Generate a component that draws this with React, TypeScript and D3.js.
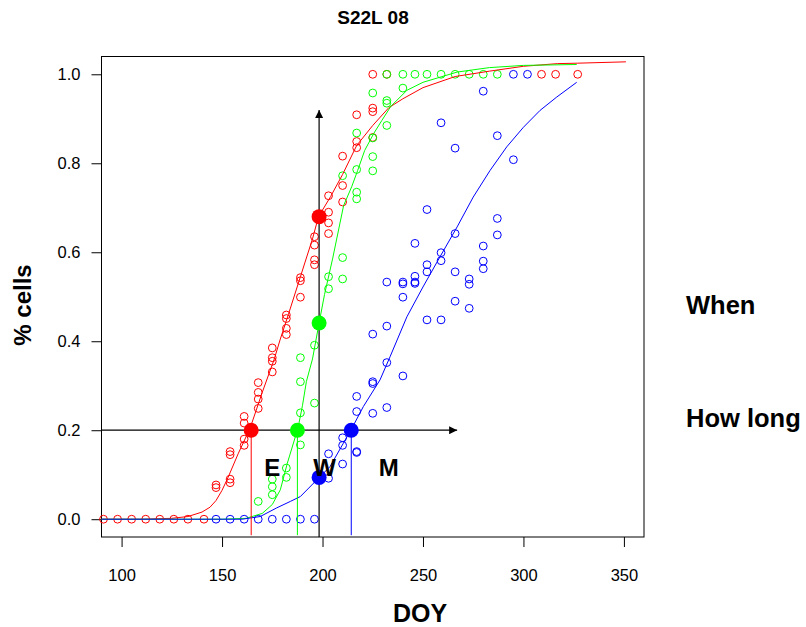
import React, { useEffect, useRef } from "react";
import * as d3 from "d3";

// axis ticks
const xTicks = [100, 150, 200, 250, 300, 350];
const yTicks = [0, 0.2, 0.4, 0.6, 0.8, 1.0];

// observed proportions, [DOY, % cells]
const redObs: [number, number][] = [
  [91, 0], [98, 0], [105, 0], [112, 0], [119, 0], [126, 0], [133, 0], [141, 0],
  [147, 0.077], [147, 0.071],
  [154, 0.152], [154, 0.145], [154, 0.09], [154, 0.082],
  [161, 0.231], [161, 0.216], [161, 0.18], [161, 0.166],
  [168, 0.307], [168, 0.285], [168, 0.27], [168, 0.249],
  [175, 0.385], [175, 0.363], [175, 0.355], [175, 0.331],
  [182, 0.459], [182, 0.451], [182, 0.429], [182, 0.415],
  [189, 0.543], [189, 0.536], [189, 0.499],
  [196, 0.635], [196, 0.616], [196, 0.583], [196, 0.572],
  [203, 0.727], [203, 0.69], [203, 0.666], [203, 0.642],
  [210, 0.816], [210, 0.75], [210, 0.713],
  [217, 0.909], [217, 0.849], [217, 0.835],
  [225, 1.0], [225, 0.924], [225, 0.916], [225, 0.858],
  [232, 1.0], [309, 1.0], [316, 1.0], [327, 1.0],
];

const greenObs: [number, number][] = [
  [168, 0.04],
  [175, 0.09], [175, 0.073], [175, 0.055],
  [182, 0.115], [182, 0.094],
  [189, 0.363], [189, 0.309], [189, 0.239], [189, 0.167],
  [196, 0.391], [196, 0.261],
  [203, 0.545], [203, 0.518],
  [210, 0.772], [210, 0.588], [210, 0.54],
  [217, 0.868], [217, 0.786], [217, 0.735], [217, 0.72],
  [225, 0.958], [225, 0.857], [225, 0.815], [225, 0.783],
  [232, 1.0], [232, 0.941], [232, 0.935], [232, 0.885],
  [240, 1.0], [240, 0.969],
  [246, 1.0], [252, 1.0], [259, 1.0], [266, 1.0], [273, 1.0], [280, 1.0], [287, 1.0],
];

const blueObs: [number, number][] = [
  [147, 0], [154, 0], [161, 0], [168, 0], [175, 0], [182, 0], [189, 0], [196, 0],
  [203, 0.147], [203, 0.092],
  [210, 0.183], [210, 0.166], [210, 0.124],
  [217, 0.276], [217, 0.242], [217, 0.152], [217, 0.15],
  [225, 0.416], [225, 0.309], [225, 0.305], [225, 0.238],
  [232, 0.533], [232, 0.434], [232, 0.352], [232, 0.251],
  [240, 0.533], [240, 0.529], [240, 0.499], [240, 0.322],
  [246, 0.62], [246, 0.546], [246, 0.533], [246, 0.53],
  [252, 0.696], [252, 0.572], [252, 0.556], [252, 0.448],
  [259, 0.891], [259, 0.599], [259, 0.581], [259, 0.448],
  [266, 0.834], [266, 0.642], [266, 0.556], [266, 0.49],
  [273, 0.54], [273, 0.528], [273, 0.474],
  [280, 0.962], [280, 0.614], [280, 0.58], [280, 0.563],
  [287, 0.862], [287, 0.676], [287, 0.639],
  [295, 1.0], [295, 0.808],
  [302, 1.0],
];

// fitted curves
const redFit: [number, number][] = [
  [90, 0], [110, 0], [125, 0.002], [133, 0.006], [140, 0.016], [144, 0.027],
  [147, 0.042], [150, 0.065], [153, 0.094], [158, 0.147], [164, 0.205],
  [170, 0.285], [176, 0.36], [179, 0.405], [183, 0.46], [189, 0.545],
  [195, 0.63], [198, 0.68], [204, 0.725], [210, 0.775], [217, 0.84],
  [225, 0.885], [233, 0.925], [240, 0.945], [250, 0.97], [266, 0.995],
  [283, 1.007], [300, 1.018], [317, 1.024], [327, 1.025], [351, 1.028],
];

const greenFit: [number, number][] = [
  [90, 0], [150, 0], [162, 0.002], [170, 0.013], [175, 0.033], [179, 0.066],
  [182.5, 0.126], [187.8, 0.205], [190, 0.255], [192, 0.31], [195, 0.36],
  [198.3, 0.441], [201, 0.505], [205, 0.585], [210.5, 0.705], [214.5, 0.747],
  [217.5, 0.784], [221, 0.829], [225.5, 0.867], [229.5, 0.896], [234, 0.928],
  [242, 0.964], [250, 0.982], [267, 1.005], [283, 1.015], [300, 1.02], [326.5, 1.022],
];

const blueFit: [number, number][] = [
  [90, 0], [160, 0], [169, 0.006], [177, 0.025], [184, 0.04], [189, 0.051],
  [198.4, 0.094], [203.7, 0.118], [210.4, 0.171], [214.7, 0.205], [220.3, 0.253],
  [228.6, 0.313], [233.6, 0.365], [242, 0.455], [250, 0.522], [258.5, 0.59],
  [267, 0.657], [275, 0.724], [283.4, 0.784], [291.7, 0.837], [300, 0.881],
  [308.3, 0.919], [316.6, 0.949], [326.5, 0.982],
];

// E / M (at 20%) and W (on the "when" date)
const levelP = 0.2;
const whenDay = 198.3;
const startDays = { red: 164.5, green: 187.5, blue: 214.3 };
const whenVals = { red: 0.68, green: 0.441, blue: 0.094 };
const arrowEnd = { day: 267, p: 0.92 };

const COLORS = { red: "#ff0000", green: "#00ff00", blue: "#0000ff" };
const FONT = "'Liberation Sans', Arial, Helvetica, sans-serif";

export default function App() {
  const ref = useRef<SVGSVGElement>(null);

  useEffect(() => {
    const svg = d3.select(ref.current);
    svg.selectAll("*").remove();

    const x = d3.scaleLinear().domain([90, 360]).range([101.5, 644]);
    const y = d3.scaleLinear().domain([-0.04, 1.04]).range([537, 56.5]);

    svg.append("defs").append("marker")
      .attr("id", "arr")
      .attr("markerUnits", "userSpaceOnUse")
      .attr("markerWidth", 9)
      .attr("markerHeight", 8)
      .attr("refX", 8)
      .attr("refY", 4)
      .attr("orient", "auto")
      .append("path")
      .attr("d", "M0,0L8,4L0,8Z")
      .attr("fill", "#000");

    // title
    svg.append("text")
      .attr("x", 373).attr("y", 24)
      .attr("text-anchor", "middle")
      .attr("font-family", FONT).attr("font-weight", "bold").attr("font-size", 19)
      .text("S22L 08");

    // axes
    const xAxis = svg.append("g")
      .attr("transform", "translate(0,537)")
      .call(d3.axisBottom(x).tickValues(xTicks).tickSize(10).tickPadding(22).tickFormat(d3.format("d")));
    const yAxis = svg.append("g")
      .attr("transform", "translate(101.5,0)")
      .call(d3.axisLeft(y).tickValues(yTicks).tickSize(10).tickPadding(11).tickFormat(d3.format(".1f")));
    [xAxis, yAxis].forEach((g) => {
      g.select(".domain").remove();
      g.selectAll("text").attr("font-family", FONT).attr("font-size", 16.5).attr("fill", "#000");
      g.selectAll("line").attr("stroke", "#000");
    });

    // box
    svg.append("rect")
      .attr("x", 101.5).attr("y", 56.5)
      .attr("width", 542.5).attr("height", 480.5)
      .attr("fill", "none").attr("stroke", "#000");

    // axis titles
    svg.append("text")
      .attr("x", 420).attr("y", 622)
      .attr("text-anchor", "middle")
      .attr("font-family", FONT).attr("font-weight", "bold").attr("font-size", 25)
      .text("DOY");
    svg.append("text")
      .attr("transform", "translate(31,305) rotate(-90)")
      .attr("text-anchor", "middle")
      .attr("font-family", FONT).attr("font-weight", "bold").attr("font-size", 24)
      .text("% cells");

    const line = d3.line<[number, number]>()
      .x((d) => x(d[0]))
      .y((d) => y(d[1]));

    const series: [string, [number, number][], [number, number][]][] = [
      [COLORS.red, redObs, redFit],
      [COLORS.green, greenObs, greenFit],
      [COLORS.blue, blueObs, blueFit],
    ];

    const plot = svg.append("g");

    series.forEach(([col, obs]) => {
      plot.selectAll(null)
        .data(obs)
        .enter()
        .append("circle")
        .attr("cx", (d) => x(d[0]))
        .attr("cy", (d) => y(d[1]))
        .attr("r", 3.9)
        .attr("fill", "none")
        .attr("stroke", col)
        .attr("stroke-width", 1);
    });

    series.forEach(([col, , fit]) => {
      plot.append("path")
        .datum(fit)
        .attr("d", line)
        .attr("fill", "none")
        .attr("stroke", col)
        .attr("stroke-width", 1);
    });

    // arrows
    plot.append("line")
      .attr("x1", x(90)).attr("x2", x(arrowEnd.day))
      .attr("y1", y(levelP)).attr("y2", y(levelP))
      .attr("stroke", "#000").attr("stroke-width", 1.2)
      .attr("marker-end", "url(#arr)");
    plot.append("line")
      .attr("x1", x(whenDay)).attr("x2", x(whenDay))
      .attr("y1", y(-0.04)).attr("y2", y(arrowEnd.p))
      .attr("stroke", "#000").attr("stroke-width", 1.2)
      .attr("marker-end", "url(#arr)");

    // drop lines and filled points
    (["red", "green", "blue"] as const).forEach((k) => {
      plot.append("line")
        .attr("x1", x(startDays[k])).attr("x2", x(startDays[k]))
        .attr("y1", y(levelP)).attr("y2", y(-0.036))
        .attr("stroke", COLORS[k]).attr("stroke-width", 1);
    });
    (["red", "green", "blue"] as const).forEach((k) => {
      plot.append("circle")
        .attr("cx", x(startDays[k])).attr("cy", y(levelP))
        .attr("r", 7.5).attr("fill", COLORS[k]);
      plot.append("circle")
        .attr("cx", x(whenDay)).attr("cy", y(whenVals[k]))
        .attr("r", 7.5).attr("fill", COLORS[k]);
    });

    // labels
    const labels: [string, number][] = [["E", 175], ["W", 201], ["M", 233]];
    labels.forEach(([t, d]) => {
      plot.append("text")
        .attr("x", x(d)).attr("y", y(0.098))
        .attr("text-anchor", "middle")
        .attr("font-family", FONT).attr("font-weight", "bold").attr("font-size", 24)
        .text(t);
    });

    svg.append("text")
      .attr("x", 686).attr("y", 314)
      .attr("font-family", FONT).attr("font-weight", "bold").attr("font-size", 25.5)
      .text("When");
    svg.append("text")
      .attr("x", 686).attr("y", 427)
      .attr("font-family", FONT).attr("font-weight", "bold").attr("font-size", 25.5)
      .text("How long");
  }, []);

  return (
    <svg
      ref={ref}
      width={806}
      height={627}
      style={{ position: "absolute", left: 0, top: 0, background: "#fff" }}
    />
  );
}
